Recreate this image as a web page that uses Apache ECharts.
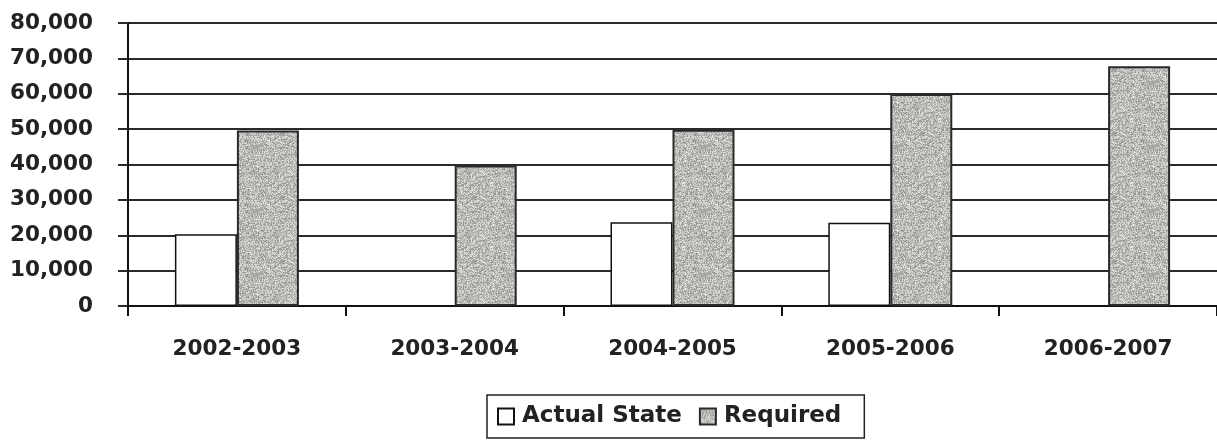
<!DOCTYPE html>
<html>
<head>
<meta charset="utf-8">
<title>Actual State vs Required</title>
<script src="https://cdn.jsdelivr.net/npm/echarts@6/dist/echarts.min.js"></script>
<style>
  html, body { margin: 0; padding: 0; background: #fff; }
  #chart { width: 1217px; height: 440px; }
</style>
</head>
<body>
<div id="chart"></div>
<script>
// School years on the category axis
const years = ['2002-2003', '2003-2004', '2004-2005', '2005-2006', '2006-2007'];
// Actual state figures (no value reported for 2003-2004 and 2006-2007)
const actualState = [20300, null, 23700, 23500, null];
// Required figures
const required = [49600, 39700, 49800, 59900, 67800];
// Value axis range
const yMin = 0;
const yMax = 80000;
const yStep = 10000;

// Stippled grey fill for the "Required" bars, built from a fixed hash so it is the same every time
function stipple(size) {
  const c = document.createElement('canvas');
  c.width = size; c.height = size;
  const ctx = c.getContext('2d');
  const img = ctx.createImageData(size, size);
  let s = 1234567;
  for (let i = 0; i < size * size; i++) {
    s = (s * 1103515245 + 12345) & 0x7fffffff;
    const n = (s >> 8) & 0xff;
    const g = Math.round(145 + (n / 255) * 85);
    img.data[i * 4] = g - 2;
    img.data[i * 4 + 1] = g;
    img.data[i * 4 + 2] = g - 4;
    img.data[i * 4 + 3] = 255;
  }
  ctx.putImageData(img, 0, 0);
  return c;
}

const labelFont = { fontFamily: 'DejaVu Sans', fontWeight: 'bold', fontSize: 21.5, color: '#222' };

const chart = echarts.init(document.getElementById('chart'), null, { renderer: 'canvas' });
chart.setOption({
  animation: false,
  backgroundColor: '#fff',
  grid: { left: 128, top: 23, width: 1095, height: 283 },
  legend: {
    data: ['Actual State', 'Required'],
    left: 487,
    top: 395,
    orient: 'horizontal',
    icon: 'rect',
    itemWidth: 16,
    itemHeight: 16,
    itemGap: 17,
    padding: [10, 23, 10, 10],
    borderColor: '#222',
    borderWidth: 1.5,
    textStyle: { fontFamily: 'DejaVu Sans', fontWeight: 'bold', fontSize: 23, color: '#222', padding: [0, 0, 0, 3] }
  },
  xAxis: {
    type: 'category',
    data: years,
    axisLine: { lineStyle: { color: '#111', width: 2 } },
    axisTick: { show: true, length: 10, lineStyle: { color: '#111', width: 2 } },
    axisLabel: Object.assign({ margin: 32 }, labelFont),
    splitLine: { show: false }
  },
  yAxis: {
    type: 'value',
    min: yMin,
    max: yMax,
    interval: yStep,
    axisLine: { show: true, lineStyle: { color: '#111', width: 2 } },
    axisTick: { show: true, length: 10, lineStyle: { color: '#2a2a2a', width: 2 } },
    axisLabel: Object.assign({
      margin: 35,
      formatter: v => v.toLocaleString('en-US')
    }, labelFont),
    splitLine: { show: true, lineStyle: { color: '#2a2a2a', width: 2 } }
  },
  series: [
    {
      name: 'Actual State',
      type: 'bar',
      data: actualState,
      barWidth: 62,
      barGap: '0%',
      itemStyle: { color: '#fff', borderColor: '#111', borderWidth: 1.5 }
    },
    {
      name: 'Required',
      type: 'bar',
      data: required,
      barWidth: 62,
      barGap: '0%',
      itemStyle: {
        color: { image: stipple(64), repeat: 'repeat' },
        borderColor: '#2a2a2a',
        borderWidth: 2
      }
    }
  ]
});
</script>
</body>
</html>
